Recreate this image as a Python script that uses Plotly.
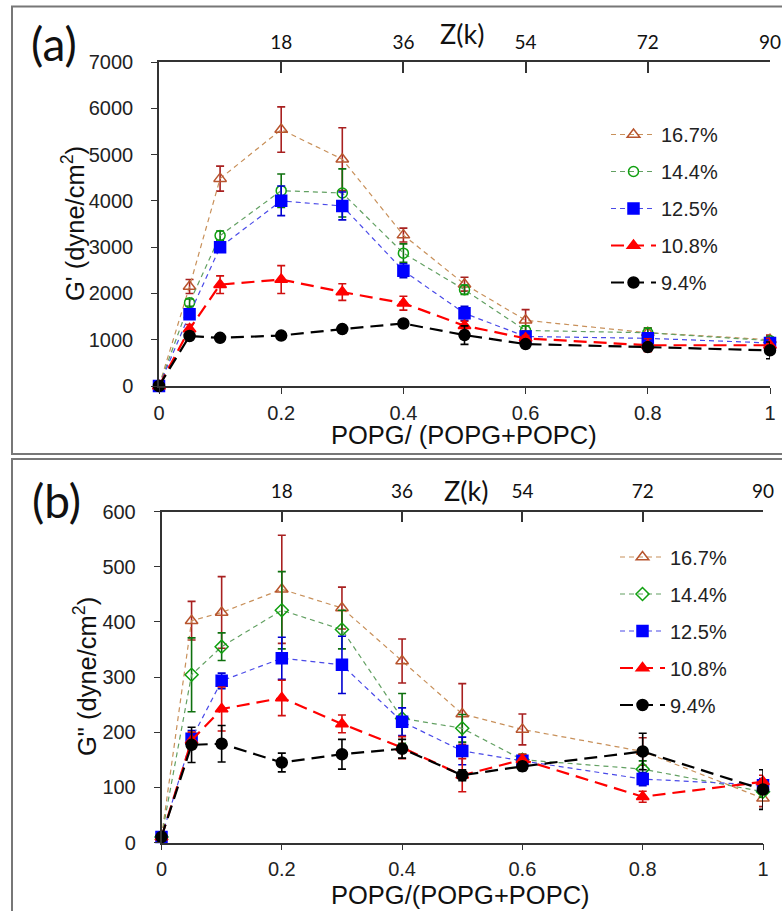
import plotly.graph_objects as go

# ---------------- data ----------------
x_frac = [0, 0.05, 0.1, 0.2, 0.3, 0.4, 0.5, 0.6, 0.8, 1.0]
series_names = ["16.7%", "14.4%", "12.5%", "10.8%", "9.4%"]
z_ticks = [18, 36, 54, 72, 90]

# Panel (a) G'
g1_167 = [0, 2150, 4480, 5540, 4900, 3260, 2200, 1420, 1150, 1000]
e1_167 = [0, 150, 270, 490, 680, 150, 150, 230, 100, 100]
g1_144 = [0, 1800, 3250, 4220, 4170, 2870, 2080, 1200, 1150, 980]
e1_144 = [0, 80, 100, 360, 520, 200, 100, 100, 100, 80]
g1_125 = [0, 1550, 3000, 4000, 3890, 2490, 1570, 1070, 1030, 930]
e1_125 = [0, 80, 100, 320, 300, 150, 150, 60, 80, 100]
g1_108 = [0, 1230, 2190, 2300, 2030, 1790, 1300, 1030, 880, 880]
e1_108 = [0, 100, 190, 300, 180, 150, 100, 60, 140, 150]
g1_94 = [0, 1080, 1040, 1090, 1230, 1350, 1100, 905, 840, 770]
e1_94 = [0, 60, 50, 80, 80, 60, 200, 50, 80, 180]

# Panel (b) G''
g2_167 = [10, 402, 417, 459, 425, 329, 233, 205, 165, 80]
e2_167 = [0, 35, 65, 98, 38, 40, 55, 28, 25, 15]
g2_144 = [10, 304, 355, 421, 386, 225, 207, 150, 133, 92]
e2_144 = [0, 67, 25, 70, 35, 45, 25, 10, 15, 10]
g2_125 = [10, 188, 293, 334, 322, 219, 166, 148, 115, 104]
e2_125 = [0, 15, 14, 38, 52, 25, 25, 10, 12, 12]
g2_108 = [10, 185, 242, 262, 215, 172, 122, 150, 83, 110]
e2_108 = [0, 15, 40, 32, 16, 20, 30, 10, 10, 12]
g2_94 = [10, 177, 179, 145, 160, 170, 122, 138, 165, 96]
e2_94 = [0, 32, 33, 17, 27, 17, 10, 8, 33, 36]

# ---------------- styles ----------------
W, H = 782, 911
styles = [
    dict(line="#C8905A", width=1.2, dash="5px,4px", symbol="triangle-up-open", mcolor="#B8552E", size=11, ecolor="#A82020"),
    dict(line="#62A062", width=1.2, dash="5px,4px", symbol="circle-open", mcolor="#10A010", size=10, ecolor="#0E700E"),
    dict(line="#4A4AE8", width=1.2, dash="5px,4px", symbol="square", mcolor="#0000FF", size=11, ecolor="#0000D0"),
    dict(line="#FF0000", width=2.2, dash="13px,7px", symbol="triangle-up", mcolor="#FF0000", size=11, ecolor="#D01010"),
    dict(line="#000000", width=2.2, dash="13px,7px", symbol="circle", mcolor="#000000", size=11, ecolor="#000000"),
]
styles_b = [dict(s) for s in styles]
styles_b[1]["symbol"] = "diamond-open"
styles_b[1]["size"] = 10

def px_x(p):
    return p / W

def px_y(p):
    return 1 - p / H

fig = go.Figure()

panel_a = [(g1_167, e1_167), (g1_144, e1_144), (g1_125, e1_125), (g1_108, e1_108), (g1_94, e1_94)]
panel_b = [(g2_167, e2_167), (g2_144, e2_144), (g2_125, e2_125), (g2_108, e2_108), (g2_94, e2_94)]

for i, ((vals, errs), name, st) in enumerate(zip(panel_a, series_names, styles)):
    fig.add_trace(go.Scatter(
        x=x_frac, y=vals, name=name, mode="lines+markers", xaxis="x", yaxis="y",
        legend="legend", legendgroup="a%d" % i, cliponaxis=False,
        line=dict(color=st["line"], width=st["width"], dash=st["dash"]),
        marker=dict(symbol=st["symbol"], size=st["size"], color=st["mcolor"],
                    line=dict(color=st["mcolor"], width=1.5)),
        error_y=dict(type="data", array=errs, visible=True, color=st["ecolor"], thickness=1.6, width=4),
    ))

for i, ((vals, errs), name, st) in enumerate(zip(panel_b, series_names, styles_b)):
    fig.add_trace(go.Scatter(
        x=x_frac, y=vals, name=name, mode="lines+markers", xaxis="x2", yaxis="y2",
        legend="legend2", legendgroup="b%d" % i, cliponaxis=False,
        line=dict(color=st["line"], width=st["width"], dash=st["dash"]),
        marker=dict(symbol=st["symbol"], size=st["size"], color=st["mcolor"],
                    line=dict(color=st["mcolor"], width=1.5)),
        error_y=dict(type="data", array=errs, visible=True, color=st["ecolor"], thickness=1.6, width=4),
    ))

# dummy traces for top (Z) axes
fig.add_trace(go.Scatter(x=[], y=[], xaxis="x3", yaxis="y", showlegend=False))
fig.add_trace(go.Scatter(x=[], y=[], xaxis="x4", yaxis="y2", showlegend=False))

tickfont = dict(family="Liberation Sans, Arial, sans-serif", size=20, color="#222222")
topfont = dict(family="Lato, sans-serif", size=19, color="#111111")
axcol = "#333333"

dom_a_x = [px_x(159), px_x(770)]
dom_a_y = [px_y(386), px_y(62)]
dom_b_x = [px_x(161.5), px_x(763)]
dom_b_y = [px_y(842.5), px_y(511.5)]

common_x = dict(range=[0, 1], tickvals=[0, 0.2, 0.4, 0.6, 0.8, 1], ticktext=["0", "0.2", "0.4", "0.6", "0.8", "1"],
                showline=True, linecolor=axcol, linewidth=1.5, ticks="outside", ticklen=6, tickcolor=axcol,
                tickwidth=1.2, showgrid=False, zeroline=False, tickfont=tickfont, ticklabelstandoff=2,
                automargin=False)
common_y = dict(showline=True, linecolor=axcol, linewidth=1.5, ticks="outside", ticklen=6, tickcolor=axcol,
                tickwidth=1.2, showgrid=False, zeroline=False, tickfont=tickfont, ticklabelstandoff=14,
                automargin=False)
common_top = dict(range=[0, 90], tickvals=z_ticks, side="top", showline=True, linecolor=axcol, linewidth=1.5,
                  ticks="inside", ticklen=11, tickcolor=axcol, tickwidth=1.5, showgrid=False, zeroline=False,
                  tickfont=topfont, ticklabelstandoff=4, automargin=False)

legfont = dict(family="Liberation Sans, Arial, sans-serif", size=20, color="#222222")

fig.update_layout(
    width=W, height=H, margin=dict(l=0, r=0, t=0, b=0, autoexpand=False),
    paper_bgcolor="white", plot_bgcolor="white",
    xaxis=dict(domain=dom_a_x, anchor="y", **common_x),
    yaxis=dict(domain=dom_a_y, anchor="x", range=[0, 7000], tickvals=list(range(0, 7001, 1000)), **common_y),
    xaxis2=dict(domain=dom_b_x, anchor="y2", **common_x),
    yaxis2=dict(domain=dom_b_y, anchor="x2", range=[0, 600], tickvals=list(range(0, 601, 100)), **common_y),
    xaxis3=dict(overlaying="x", anchor="y", domain=dom_a_x, **common_top),
    xaxis4=dict(overlaying="x2", anchor="y2", domain=dom_b_x, **common_top),
    legend=dict(x=px_x(606), y=px_y(115), xanchor="left", yanchor="top", bgcolor="rgba(0,0,0,0)",
                font=legfont, traceorder="grouped", tracegroupgap=8, itemwidth=45),
    legend2=dict(x=px_x(615), y=px_y(537.5), xanchor="left", yanchor="top", bgcolor="rgba(0,0,0,0)",
                 font=legfont, traceorder="grouped", tracegroupgap=8, itemwidth=45),
    shapes=[
        dict(type="rect", xref="paper", yref="paper", x0=px_x(12), x1=px_x(792), y0=px_y(454), y1=px_y(6.5),
             line=dict(color="#777777", width=2), fillcolor="rgba(0,0,0,0)", layer="below"),
        dict(type="rect", xref="paper", yref="paper", x0=px_x(12), x1=px_x(792), y0=px_y(920), y1=px_y(459),
             line=dict(color="#777777", width=2), fillcolor="rgba(0,0,0,0)", layer="below"),
    ],
)

titlefont = dict(family="Liberation Sans, Arial, sans-serif", size=25.5, color="#111111")
labfont = dict(family="Lato, sans-serif", size=46, color="#111111")
zfont = dict(family="Lato, sans-serif", size=27, color="#111111")

ann = [
    dict(text="(a)", x=px_x(54), y=px_y(43), font=labfont),
    dict(text="(b)", x=px_x(56), y=px_y(500), font=labfont),
    dict(text="Z(k)", x=px_x(462), y=px_y(33), font=zfont),
    dict(text="Z(k)", x=px_x(466), y=px_y(490), font=zfont),
    dict(text="POPG/ (POPG+POPC)", x=px_x(464), y=px_y(435.5), font=titlefont),
    dict(text="POPG/(POPG+POPC)", x=px_x(460), y=px_y(895), font=titlefont),
    dict(text="G' (dyne/cm<sup>2</sup>)", x=px_x(73), y=px_y(224), font=titlefont, textangle=-90),
    dict(text="G\" (dyne/cm<sup>2</sup>)", x=px_x(85), y=px_y(677), font=titlefont, textangle=-90),
]
for a in ann:
    a.update(xref="paper", yref="paper", showarrow=False, xanchor="center", yanchor="middle")
    fig.add_annotation(**a)

fig.write_html("out.html", config={"displayModeBar": False},
               post_script="document.body.style.margin='0';document.body.style.overflow='hidden';")
